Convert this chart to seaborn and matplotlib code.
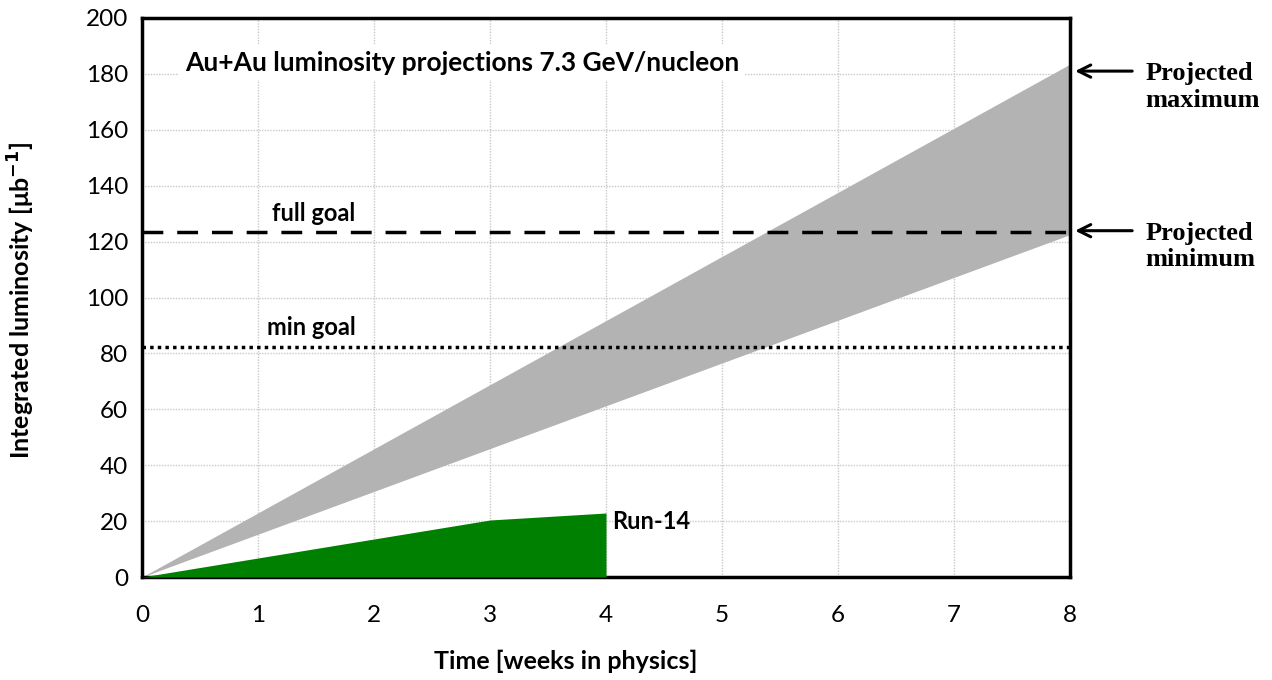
import matplotlib
matplotlib.use("Agg")
import matplotlib.pyplot as plt
import seaborn as sns
import numpy as np
import pandas as pd
from matplotlib.ticker import MultipleLocator

# Projection band (weeks in physics vs integrated luminosity)
proj_weeks = [0, 8]
proj_max = [0, 183.5]
proj_min = [0, 122.5]

# Run-14 delivered luminosity
run14_weeks = [0, 1, 2, 3, 4]
run14_lumi = [0, 6.8, 13.6, 20.4, 22.9]

# Goals
full_goal = 123.5
min_goal = 82.3

x_ticks = [0, 1, 2, 3, 4, 5, 6, 7, 8]
y_ticks = [0, 20, 40, 60, 80, 100, 120, 140, 160, 180, 200]

sns.set_style("white")
plt.rcParams["font.family"] = ["Lato", "DejaVu Sans"]
plt.rcParams["text.color"] = "black"
plt.rcParams["axes.labelcolor"] = "black"

fig = plt.figure(figsize=(12.72, 6.8), dpi=100)
ax = fig.add_axes([142 / 1272, 1 - 577 / 680, (1070 - 142) / 1272, (577 - 18) / 680])

proj = pd.DataFrame({"weeks": proj_weeks, "max": proj_max, "min": proj_min})
run = pd.DataFrame({"weeks": run14_weeks, "lumi": run14_lumi})

ax.fill_between(proj["weeks"], proj["min"], proj["max"], color="#b3b3b3", lw=0, zorder=2)
ax.fill_between(run["weeks"], 0, run["lumi"], color="#008000", lw=0, zorder=3)

goals = pd.DataFrame({"weeks": [0, 8, 0, 8],
                      "lumi": [full_goal, full_goal, min_goal, min_goal],
                      "goal": ["full", "full", "min", "min"]})
sns.lineplot(data=goals[goals.goal == "full"], x="weeks", y="lumi", ax=ax,
             color="black", lw=2.5, zorder=4)
ax.lines[-1].set_dashes([6, 4])
sns.lineplot(data=goals[goals.goal == "min"], x="weeks", y="lumi", ax=ax,
             color="black", lw=2.5, zorder=4)
ax.lines[-1].set_dashes([1, 1.2])

ax.set_xlim(0, 8)
ax.set_ylim(0, 200)
ax.set_xticks(x_ticks)
ax.set_yticks(y_ticks)
ax.xaxis.set_minor_locator(MultipleLocator(0.5))
ax.yaxis.set_minor_locator(MultipleLocator(4))
ax.tick_params(axis="both", which="major", direction="in", length=8, width=1.5,
               labelsize=17.5, colors="black", top=False, right=False)
ax.tick_params(axis="both", which="minor", direction="in", length=5, width=1.2,
               top=False, right=False)
ax.tick_params(axis="x", pad=20)
ax.tick_params(axis="y", pad=10)
ax.grid(True, which="major", color="#c8c8c8", ls=(0, (1, 1)), lw=1.0, zorder=0)
ax.set_axisbelow(True)
for s in ax.spines.values():
    s.set_color("black")
    s.set_linewidth(2.5)

ax.set_xlabel("Time [weeks in physics]", fontsize=18, fontweight="bold")
ax.xaxis.set_label_coords(0.457, -0.13)
ax.set_ylabel("Integrated luminosity [μb$^{\\mathbf{-1}}$]", fontsize=18, fontweight="bold")
ax.yaxis.set_label_coords(-0.113, 0.495)

ax.text(0.37, 184, "Au+Au luminosity projections 7.3 GeV/nucleon", fontsize=19,
        fontweight="bold", va="center", ha="left", zorder=5,
        bbox=dict(facecolor="white", edgecolor="none", pad=4))
ax.text(1.12, 130.2, "full goal", fontsize=17, fontweight="bold",
        va="center", ha="left", zorder=5)
ax.text(1.08, 89.1, "min goal", fontsize=17, fontweight="bold",
        va="center", ha="left", zorder=5)
ax.text(4.05, 19.7, "Run-14", fontsize=17, fontweight="bold",
        va="center", ha="left", zorder=5)

# Arrows pointing at the band edges at week 8
for yv, label in [(181.0, "Projected\nmaximum"), (123.9, "Projected\nminimum")]:
    ax.annotate("", xy=(8.02, yv), xytext=(8.56, yv), xycoords="data",
                textcoords="data", annotation_clip=False,
                arrowprops=dict(arrowstyle="->", lw=2.2, color="black", mutation_scale=22))
    ax.text(8.65, yv - 5.6, label, fontsize=19, fontweight="bold", va="center", ha="left",
            family=["Liberation Serif"], linespacing=1.2, clip_on=False)

fig.savefig("out.png", dpi=100)
